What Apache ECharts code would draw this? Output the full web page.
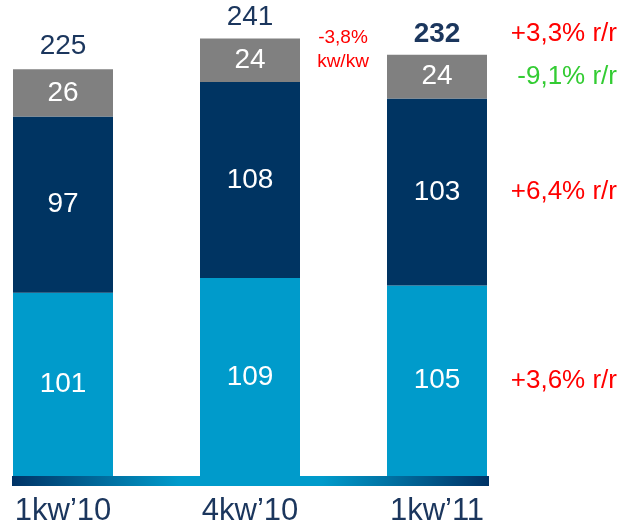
<!DOCTYPE html>
<html>
<head>
<meta charset="utf-8">
<script src="https://cdn.jsdelivr.net/npm/echarts@6/dist/echarts.min.js"></script>
<style>
  html, body { margin: 0; padding: 0; background: #fff; }
  #chart { width: 622px; height: 527px; }
</style>
</head>
<body>
<div id="chart"></div>
<script>
const categories = ['1kw\u201910', '4kw\u201910', '1kw\u201911'];
const lowerValues = [101, 109, 105];
const middleValues = [97, 108, 103];
const upperValues = [26, 24, 24];
const totals = [225, 241, 232];
// zmiany r/r dla ostatniego kwartału: dół, środek, góra, suma
const yoyLabels = ['+3,6% r/r', '+6,4% r/r', '-9,1% r/r', '+3,3% r/r'];
const yoyColors = ['#ff0000', '#ff0000', '#33cc33', '#ff0000'];
const qoqLabel = ['-3,8%', 'kw/kw'];

const font = 'Liberation Sans, Arial, sans-serif';
const navyText = '#1b365d';

const chartDom = document.getElementById('chart');
const myChart = echarts.init(chartDom, null, { renderer: 'canvas' });

const insideLabel = {
    show: true,
    position: 'inside',
    color: '#fff',
    fontSize: 28,
    fontFamily: font
};

const options = {
    animation: false,
    grid: { left: 63, right: 185, top: 4, bottom: 48 },
    xAxis: {
        type: 'category',
        data: categories,
        boundaryGap: false,
        axisLine: { show: false },
        axisTick: { show: false },
        axisLabel: { color: navyText, fontSize: 31, fontFamily: font, margin: 20 }
    },
    yAxis: {
        type: 'value',
        min: 0,
        max: 260,
        show: false,
        splitLine: { show: false }
    },
    series: [
        {
            type: 'bar', stack: 'a', barWidth: 100,
            data: lowerValues,
            itemStyle: { color: '#009bcb' },
            label: insideLabel
        },
        {
            type: 'bar', stack: 'a', barWidth: 100,
            data: middleValues,
            itemStyle: { color: '#003462' },
            label: insideLabel
        },
        {
            type: 'bar', stack: 'a', barWidth: 100,
            data: upperValues,
            itemStyle: { color: '#808080' },
            label: insideLabel
        },
        {
            type: 'scatter',
            symbolSize: 0,
            itemStyle: { opacity: 1 },
            data: totals.map((v, i) => ({
                value: v,
                label: { fontWeight: i === 2 ? 'bold' : 'normal' }
            })),
            label: {
                show: true,
                position: 'top',
                distance: 7,
                color: navyText,
                fontSize: 28,
                fontFamily: font
            }
        }
    ]
};

myChart.setOption(options);

// adnotacje po prawej stronie, na wysokości segmentów ostatniego słupka
const last = categories.length - 1;
const bounds = [0, lowerValues[last], lowerValues[last] + middleValues[last],
    lowerValues[last] + middleValues[last] + upperValues[last]];
const mids = [
    (bounds[0] + bounds[1]) / 2,
    (bounds[1] + bounds[2]) / 2,
    (bounds[2] + bounds[3]) / 2
];
const yoyY = mids.map(m => myChart.convertToPixel({ gridIndex: 0 }, [last, m])[1]);
yoyY.push(myChart.convertToPixel({ gridIndex: 0 }, [last, totals[last]])[1] - 21);

const baseY = myChart.convertToPixel({ gridIndex: 0 }, [0, 0])[1];

const graphics = yoyLabels.map((t, i) => ({
    type: 'text',
    x: 617,
    y: yoyY[i],
    style: {
        text: t,
        fill: yoyColors[i],
        fontSize: 26,
        fontFamily: font,
        textAlign: 'right',
        textVerticalAlign: 'middle'
    }
}));

graphics.push({
    type: 'text',
    x: 343,
    y: 50,
    style: {
        text: qoqLabel.join('\n'),
        fill: '#ff0000',
        fontSize: 19,
        lineHeight: 24,
        fontFamily: font,
        textAlign: 'center',
        textVerticalAlign: 'middle'
    }
});

// gradientowa linia bazowa pod słupkami
graphics.push({
    type: 'rect',
    shape: { x: 12, y: baseY, width: 477, height: 10 },
    style: {
        fill: new echarts.graphic.LinearGradient(0, 0, 1, 0, [
            { offset: 0, color: '#003366' },
            { offset: 0.35, color: '#009bcb' },
            { offset: 0.65, color: '#009bcb' },
            { offset: 1, color: '#003366' }
        ])
    }
});

myChart.setOption({ graphic: graphics });
</script>
</body>
</html>
